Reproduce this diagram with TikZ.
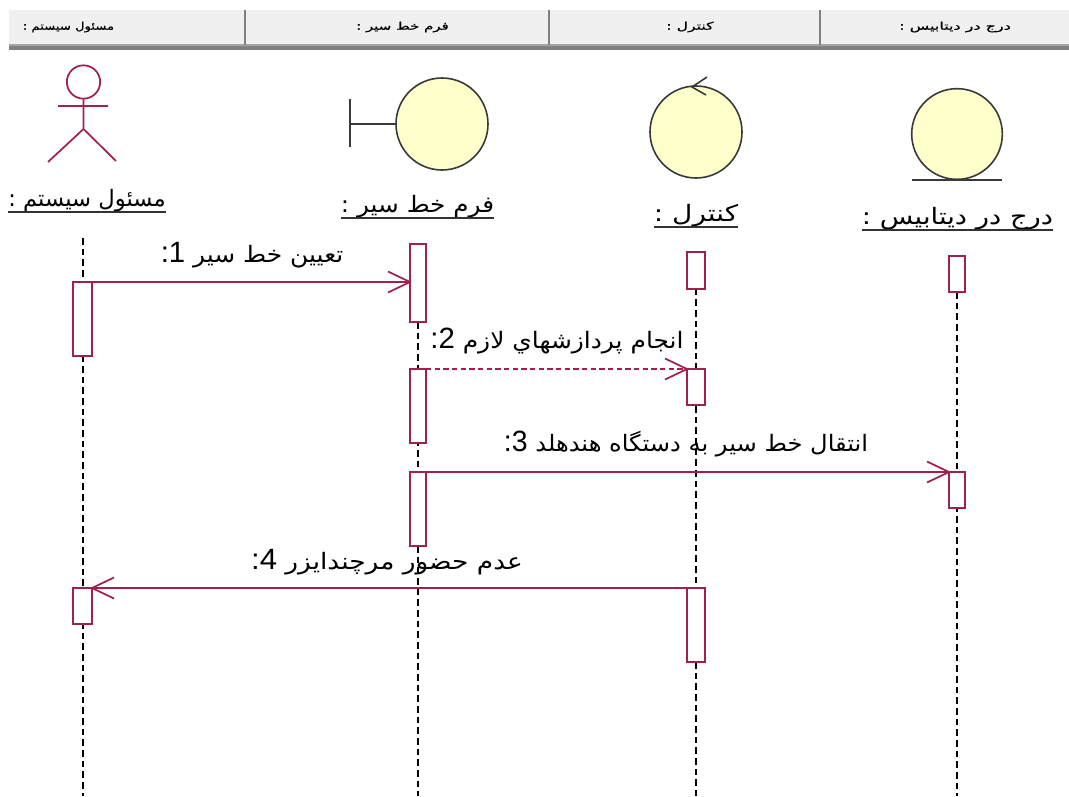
\documentclass[tikz,border=0pt]{standalone}
\usepackage{fontspec}
\usepackage{graphicx}
\usetikzlibrary{backgrounds}
\setmainfont{Liberation Sans}
\newfontfamily\arabicfont[Script=Arabic]{DejaVu Sans}
\newfontfamily\msgfont[Script=Arabic,FakeStretch=1.1]{DejaVu Sans}
\newfontfamily\hdrfont[Script=Arabic,FakeBold=0.6]{DejaVu Sans}
\TeXXeTstate=1
\definecolor{rose}{HTML}{A0214F}
\definecolor{icony}{HTML}{FFFFCC}
\definecolor{iconl}{HTML}{3A3A3A}
\definecolor{hdr}{HTML}{F0F0F0}
\definecolor{hdrl}{HTML}{808080}
\tikzset{
  x=0.75pt,y=-0.75pt,
  actbox/.style={draw=rose,line width=1.3pt,fill=white,minimum width=12pt,inner sep=0pt,outer sep=0pt,anchor=north},
  lifeline/.style={draw=black,line width=1.1pt,dash pattern=on 5pt off 3pt},
  msg/.style={draw=rose,line width=1.3pt,line join=round},
  head/.style={draw=rose,line width=1.3pt},
  icon/.style={circle,draw=iconl,line width=1.2pt,fill=icony,minimum size=69pt,inner sep=0pt,outer sep=0pt},
  iconline/.style={draw=iconl,line width=1.2pt},
  objlabel/.style={inner sep=0pt,anchor=south,font=\arabicfont\fontsize{17}{18}\selectfont},
  underl/.style={draw=black!80,line width=0.9pt},
  msglabel/.style={inner sep=0pt,font=\msgfont\fontsize{17}{18}\selectfont},
  hdrlabel/.style={inner sep=0pt,font=\hdrfont\fontsize{8}{9}\selectfont},
}
\newcommand{\ldig}[1]{{\rmfamily\fontsize{22}{23}\selectfont #1}}
\begin{document}
\begin{tikzpicture}
\useasboundingbox (0,0) rectangle (1069,796);
% header
\fill[hdr] (9,10) rectangle (1069,44);
\fill[black!35] (9,44) rectangle (1069,46);
\fill[hdrl] (9,46) rectangle (1069,50);
\draw[hdrl,line width=1.4pt] (245,10) -- (245,45) (549,10) -- (549,45) (820,10) -- (820,45);
\node[hdrlabel] (h1) at (68.5,27) {\scalebox{1.23}[1]{\beginR مسئول سیستم :\endR}};
\node[hdrlabel] (h2) at (402.5,27) {\scalebox{1.4}[1]{\beginR فرم خط سیر :\endR}};
\node[hdrlabel] (h3) at (690,27) {\scalebox{1.47}[1]{\beginR کنترل :\endR}};
\node[hdrlabel] (h4) at (955,27) {\scalebox{1.5}[1]{\beginR درج در دیتابیس :\endR}};
% actor
\node[circle,draw=rose,line width=1.3pt,minimum size=25pt,inner sep=0pt,outer sep=0pt] (head1) at (83.5,82) {};
\coordinate (arml) at (58,106);
\coordinate (armr) at (108,106);
\coordinate (hip) at (83.5,129);
\coordinate (legl) at (48,162);
\coordinate (legr) at (116,161);
\draw[head] (head1.south) -- (hip) (arml) -- (armr) (legl) -- (hip) -- (legr);
% boundary
\node[icon] (formc) at (442,124) {};
\coordinate (barm) at (350,124);
\coordinate (bart) at (350,99);
\coordinate (barb) at (350,147);
\draw[iconline] (bart) -- (barb) (barm) -- (formc.west);
% control
\node[icon] (ctrl) at (696,132) {};
\coordinate (ca) at (707,77);
\coordinate (cb) at (692,87);
\coordinate (cc) at (706,95);
\draw[iconline] (ca) -- (cb) -- (cc);
% entity
\node[icon,minimum size=68pt] (ent) at (957,134) {};
\coordinate (el) at (912,180);
\coordinate (er) at (1002,180);
\draw[iconline] (el) -- (er);
% object labels
\node[objlabel] (l1) at (87,212) {\scalebox{1.0}[1]{\beginR مسئول سیستم :\endR}};
\node[objlabel] (l2) at (417.5,218) {\scalebox{1.09}[1]{\beginR فرم خط سیر :\endR}};
\node[objlabel] (l3) at (696,227) {\scalebox{1.235}[1]{\beginR کنترل :\endR}};
\node[objlabel] (l4) at (957.5,230) {\scalebox{1.21}[1]{\beginR درج در دیتابیس :\endR}};
\foreach \n in {l1,l2,l3,l4} \draw[underl] (\n.south west) -- (\n.south east);
% activations
\node[actbox,minimum height=55.5pt,minimum width=14pt] (a1) at (82.5,282) {};
\node[actbox,minimum height=27pt,minimum width=14pt] (a2) at (82.5,588) {};
\node[actbox,minimum height=58.5pt] (f1) at (418,244) {};
\node[actbox,minimum height=55.5pt] (f2) at (418,369) {};
\node[actbox,minimum height=55.5pt] (f3) at (418,472) {};
\node[actbox,minimum height=27.5pt,minimum width=13.5pt] (c1) at (696,252) {};
\node[actbox,minimum height=27pt,minimum width=13.5pt] (c2) at (696,369) {};
\node[actbox,minimum height=55.5pt,minimum width=13.5pt] (c3) at (696,588) {};
\node[actbox,minimum height=27pt] (d1) at (957,256) {};
\node[actbox,minimum height=27pt] (d2) at (957,472) {};
% lifelines
\coordinate (t1) at (83,238);
\coordinate (b1) at (83,796);
\coordinate (b2) at (418,796);
\coordinate (b3) at (696,796);
\coordinate (b4) at (957,796);
\begin{scope}[on background layer]
\draw[lifeline] (t1) -- (b1);
\draw[lifeline] (f1.south) -- (b2);
\draw[lifeline] (c1.south) -- (b3);
\draw[lifeline] (d1.south) -- (b4);
\end{scope}
% messages
\coordinate (ah1) at (410,282);
\coordinate (ah2) at (687,369);
\coordinate (ah3) at (949,472);
\coordinate (ah4) at (92,588);
\draw[msg] (a1.north west) -- (ah1);
\draw[msg,dash pattern=on 4pt off 2.5pt] (f2.north east) -- (ah2);
\draw[msg] (f3.north east) -- (ah3);
\draw[msg] (c3.north east) -- (ah4);
\foreach \tip/\d in {ah1/-1,ah2/-1,ah3/-1,ah4/1}
  \draw[msg] ([shift={(\d*22,-10.5)}]\tip) -- (\tip) -- ([shift={(\d*22,10.5)}]\tip);
% message labels
\node[msglabel] (m1) at (252,255) {\beginR تعیین خط سیر \ldig{:1}\endR};
\node[msglabel] (m2) at (557,341) {\beginR انجام پردازشهاي لازم \ldig{:2}\endR};
\node[msglabel] (m3) at (686,444) {\scalebox{0.97}[1]{\beginR انتقال خط سیر به دستگاه هندهلد \ldig{:3}\endR}};
\node[msglabel] (m4) at (387,562) {\scalebox{1.06}[1]{\beginR عدم حضور مرچندایزر \ldig{:4}\endR}};
\end{tikzpicture}
\end{document}
